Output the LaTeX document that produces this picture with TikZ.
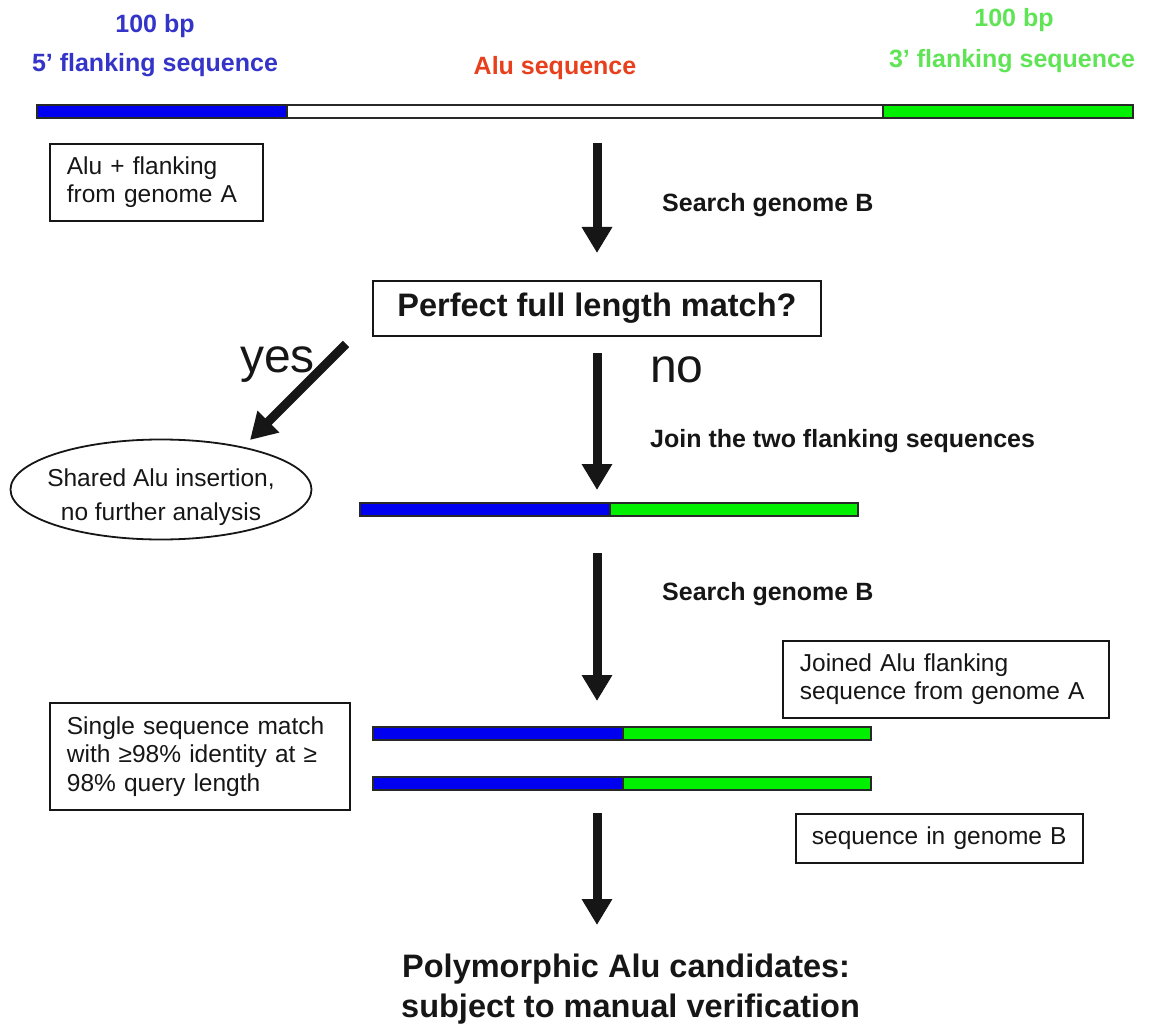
\documentclass[tikz,border=0pt]{standalone}
\usepackage{fontspec}
\setmainfont{Liberation Sans}
\usetikzlibrary{arrows.meta,shapes.geometric}
\definecolor{seqblue}{RGB}{0,0,240}
\definecolor{seqgreen}{RGB}{0,240,0}
\definecolor{lblblue}{RGB}{52,52,200}
\definecolor{lblgreen}{RGB}{95,228,85}
\definecolor{alured}{RGB}{232,64,28}
\definecolor{ink}{RGB}{22,22,22}
\definecolor{barline}{RGB}{40,40,40}
\begin{document}
\begin{tikzpicture}[x=1pt,y=-1pt,
  boldlbl/.style={font=\fontsize{25}{30}\selectfont\bfseries, inner sep=0pt, text=ink},
  biglbl/.style={font=\fontsize{32.5}{40}\selectfont\bfseries, inner sep=0pt, text=ink},
  answer/.style={font=\fontsize{48}{52}\selectfont, inner sep=0pt, text=ink, anchor=base west},
  infobox/.style={draw=ink, line width=1.8pt, anchor=north west, align=left,
     font=\fontsize{24.5}{28.5}\selectfont, text=ink, inner ysep=0pt},
  bigarrow/.style={line width=9pt, ink, -{Triangle[width=29pt,length=26pt]}},
  barline/.style={draw=barline, line width=1.8pt},
]
\useasboundingbox (0,0) rectangle (1149,1027);

% ---- top labels
\node[boldlbl, text=lblblue, anchor=base] (bp5) at (155,33) {100 bp};
\node[boldlbl, text=lblblue, anchor=base] (fl5) at (155,72) {5’ flanking sequence};
\node[boldlbl, text=alured, anchor=base] (alu) at (555,75) {Alu sequence};
\node[boldlbl, text=lblgreen, anchor=base] (bp3) at (1014,27) {100 bp};
\node[boldlbl, text=lblgreen, anchor=base] (fl3) at (1012,68) {3’ flanking sequence};

% ---- top bar
\fill[seqblue] (37,105) rectangle (287,118);
\fill[white] (287,105) rectangle (883,118);
\fill[seqgreen] (883,105) rectangle (1133,118);
\draw[barline] (37,105) rectangle (1133,118);
\draw[barline] (287,105) -- (287,118);
\draw[barline] (883,105) -- (883,118);

% ---- boxes
\node[infobox, minimum width=213pt, minimum height=77pt, inner xsep=17pt, text width=179pt]
  (alubox) at (49,143) {Alu + flanking\\from genome A};

\node[draw=ink, line width=1.8pt, minimum width=448pt, minimum height=55pt, inner sep=0pt,
  font=\fontsize{32.5}{40}\selectfont\bfseries, text=ink]
  (perfect) at (597,308.5) {Perfect full length match?};

\node[draw=ink, line width=1.8pt, ellipse, minimum width=301pt, minimum height=100pt, inner sep=0pt]
  (shared) at (161,489.5) {};
\node[align=center, font=\fontsize{24.5}{34}\selectfont, text=ink, inner sep=0pt]
  (sharedtxt) at (161,497) {Shared Alu insertion,\\no further analysis};

\node[infobox, minimum width=300pt, minimum height=107pt, inner xsep=17pt, text width=266pt]
  (single) at (49,702) {Single sequence match\\with ≥98\% identity at ≥\\98\% query length};

\node[infobox, minimum width=326pt, minimum height=77pt, inner xsep=17pt, text width=292pt]
  (joined) at (782,640) {Joined Alu flanking\\sequence from genome A};

\node[infobox, minimum width=287pt, minimum height=49pt, inner xsep=16pt, text width=255pt]
  (inB) at (795,813) {sequence in genome B};

% ---- step labels
\node[boldlbl, anchor=base west] (search1) at (662,212) {Search genome B};
\node[boldlbl, anchor=base west] (join) at (650,447) {Join the two flanking sequences};
\node[boldlbl, anchor=base west] (search2) at (662,600) {Search genome B};
\node[answer] (yes) at (240,372) {yes};
\node[answer] (no) at (650,382) {no};

% ---- joined bars
\fill[seqblue] (360,503) rectangle (610,516);
\fill[seqgreen] (610,503) rectangle (858,516);
\draw[barline] (360,503) rectangle (858,516);
\draw[barline] (610,503) -- (610,516);

\fill[seqblue] (373,727) rectangle (623,740);
\fill[seqgreen] (623,727) rectangle (871,740);
\draw[barline] (373,727) rectangle (871,740);
\draw[barline] (623,727) -- (623,740);

\fill[seqblue] (373,777) rectangle (623,790);
\fill[seqgreen] (623,777) rectangle (871,790);
\draw[barline] (373,777) rectangle (871,790);
\draw[barline] (623,777) -- (623,790);

% ---- final text
\node[biglbl, anchor=base west] (final1) at (402,977) {Polymorphic Alu candidates:};
\node[biglbl, anchor=base west] (final2) at (401,1017) {subject to manual verification};

% ---- arrows
\coordinate (a1s) at (597,143);
\coordinate (a1e) at (597,253);
\coordinate (a2s) at (597,353);
\coordinate (a2e) at (597,490);
\coordinate (a3s) at (597,553);
\coordinate (a3e) at (597,701);
\coordinate (a4s) at (597,813);
\coordinate (a4e) at (597,925);
\coordinate (dys) at (346,344);
\coordinate (dye) at (250,440);
\draw[bigarrow] (a1s) -- (a1e);
\draw[bigarrow] (a2s) -- (a2e);
\draw[bigarrow] (a3s) -- (a3e);
\draw[bigarrow] (a4s) -- (a4e);
\draw[bigarrow] (dys) -- (dye);
\end{tikzpicture}
\end{document}
